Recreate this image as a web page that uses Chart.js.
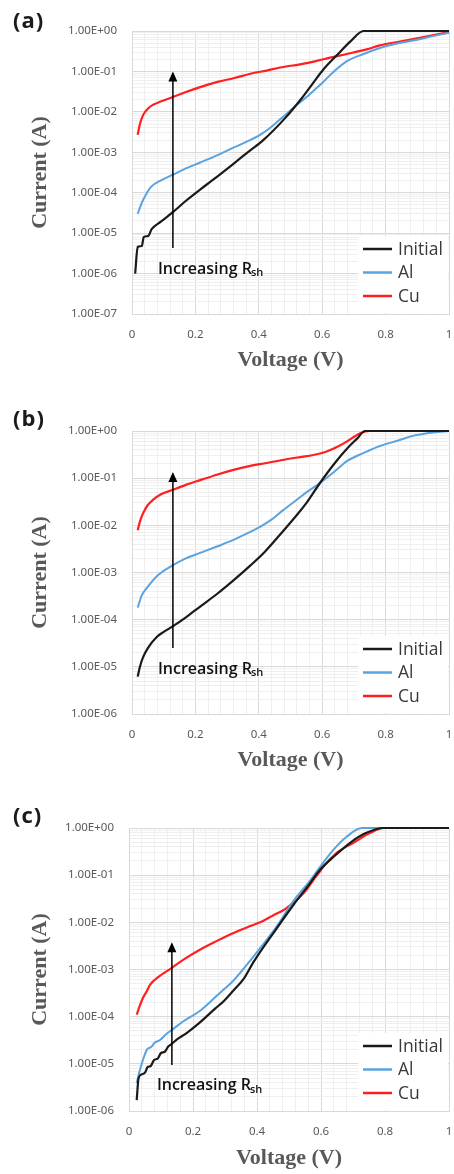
<!DOCTYPE html>
<html>
<head>
<meta charset="utf-8">
<script src="https://cdn.jsdelivr.net/npm/chart.js@4.4.1/dist/chart.umd.min.js"></script>
<style>
  body { margin: 0; width: 454px; height: 1174px; background: #fff; position: relative; overflow: hidden; }
  .panel { position: absolute; left: 0; width: 454px; }
  .tag { position: absolute; left: 13px; font: 700 22px "Open Sans", sans-serif; color: #1b1b1b; letter-spacing: 1px; }
</style>
</head>
<body>
<div class="panel" style="top:0"><canvas id="chartA" width="454" height="380"></canvas></div>
<div class="panel" style="top:390px"><canvas id="chartB" width="454" height="390"></canvas></div>
<div class="panel" style="top:790px"><canvas id="chartC" width="454" height="387"></canvas></div>
<div class="tag" style="top:4px">(a)</div>
<div class="tag" style="top:402px">(b)</div>
<div class="tag" style="top:799px">(c)</div>
<script>
// series labels and colours
const seriesNames = ['Initial', 'Al', 'Cu'];
const seriesColors = ['#1a1a1a', '#5ba3e0', '#ff1f1f'];

// x tick labels (V)
const xTickLabels = ['0', '0.2', '0.4', '0.6', '0.8', '1'];

// ---- panel (a) ----
const aInitialV = [0.01, 0.018, 0.031, 0.037, 0.051, 0.062, 0.09, 0.127, 0.173, 0.215, 0.256, 0.32, 0.37, 0.414, 0.483, 0.536, 0.57, 0.603, 0.646, 0.69, 0.73, 1.0];
const aInitialI = [1.0e-6, 4.6e-6, 4.8e-6, 8.0e-6, 8.5e-6, 1.25e-5, 1.9e-5, 3.2e-5, 6.6e-5, 1.2e-4, 2.1e-4, 5.2e-4, 1.07e-3, 2.0e-3, 7.0e-3, 0.022, 0.05, 0.11, 0.25, 0.56, 1.0, 1.0];
const aAlV = [0.018, 0.025, 0.035, 0.06, 0.09, 0.127, 0.17, 0.215, 0.27, 0.32, 0.36, 0.404, 0.44, 0.47, 0.5, 0.52, 0.55, 0.572, 0.6, 0.637, 0.678, 0.73, 0.782, 0.84, 0.887, 0.94, 1.0];
const aAlI = [3.0e-5, 4.3e-5, 6.6e-5, 1.4e-4, 2.0e-4, 2.75e-4, 4.0e-4, 5.6e-4, 8.5e-4, 1.3e-3, 1.8e-3, 2.7e-3, 4.3e-3, 6.8e-3, 0.011, 0.015, 0.023, 0.033, 0.052, 0.1, 0.18, 0.27, 0.38, 0.5, 0.58, 0.72, 0.9];
const aCuV = [0.018, 0.025, 0.035, 0.05, 0.067, 0.09, 0.127, 0.17, 0.215, 0.27, 0.32, 0.38, 0.425, 0.467, 0.53, 0.58, 0.625, 0.678, 0.74, 0.782, 0.845, 0.887, 0.94, 1.0];
const aCuI = [2.7e-3, 5.0e-3, 8.3e-3, 0.012, 0.015, 0.018, 0.023, 0.031, 0.041, 0.055, 0.068, 0.09, 0.105, 0.125, 0.15, 0.18, 0.22, 0.27, 0.35, 0.44, 0.55, 0.63, 0.76, 0.93];

// ---- panel (b) ----
const bInitialV = [0.018, 0.025, 0.035, 0.05, 0.078, 0.1, 0.127, 0.17, 0.215, 0.268, 0.32, 0.372, 0.42, 0.477, 0.52, 0.55, 0.593, 0.64, 0.678, 0.71, 0.735, 1.0];
const bInitialI = [6.2e-6, 1.0e-5, 1.6e-5, 2.5e-5, 4.3e-5, 5.5e-5, 7.1e-5, 1.12e-4, 1.9e-4, 3.5e-4, 6.8e-4, 1.38e-3, 2.8e-3, 7.6e-3, 0.0166, 0.0295, 0.079, 0.21, 0.42, 0.69, 1.0, 1.0];
const bAlV = [0.018, 0.03, 0.047, 0.08, 0.127, 0.17, 0.215, 0.27, 0.32, 0.36, 0.404, 0.44, 0.477, 0.52, 0.55, 0.593, 0.64, 0.678, 0.73, 0.782, 0.84, 0.887, 0.95, 1.0];
const bAlI = [1.8e-4, 3.2e-4, 4.7e-4, 8.5e-4, 1.4e-3, 2.0e-3, 2.6e-3, 3.6e-3, 4.9e-3, 6.6e-3, 9.3e-3, 0.0132, 0.021, 0.035, 0.05, 0.079, 0.14, 0.23, 0.34, 0.48, 0.63, 0.79, 0.93, 1.0];
const bCuV = [0.018, 0.025, 0.035, 0.05, 0.067, 0.09, 0.127, 0.17, 0.215, 0.27, 0.32, 0.37, 0.425, 0.47, 0.53, 0.572, 0.61, 0.645, 0.678, 0.72, 0.75, 1.0];
const bCuI = [7.9e-3, 0.012, 0.018, 0.027, 0.035, 0.045, 0.056, 0.072, 0.091, 0.12, 0.15, 0.18, 0.21, 0.24, 0.28, 0.31, 0.36, 0.45, 0.6, 0.9, 1.0, 1.0];

// ---- panel (c) ----
const cInitialV = [0.024, 0.03, 0.04, 0.05, 0.058, 0.068, 0.078, 0.09, 0.1, 0.112, 0.122, 0.135, 0.15, 0.18, 0.22, 0.27, 0.295, 0.325, 0.36, 0.388, 0.46, 0.513, 0.566, 0.597, 0.638, 0.69, 0.74, 0.795, 1.0];
const cInitialI = [1.7e-6, 5.0e-6, 6.0e-6, 6.5e-6, 8.5e-6, 9.0e-6, 1.2e-5, 1.3e-5, 1.7e-5, 1.8e-5, 2.3e-5, 2.7e-5, 3.3e-5, 4.5e-5, 7.4e-5, 1.5e-4, 2.1e-4, 3.5e-4, 6.6e-4, 1.4e-3, 7.2e-3, 0.023, 0.068, 0.13, 0.24, 0.48, 0.78, 1.0, 1.0];
const cAlV = [0.024, 0.034, 0.045, 0.056, 0.07, 0.08, 0.097, 0.115, 0.135, 0.17, 0.22, 0.27, 0.295, 0.325, 0.388, 0.46, 0.513, 0.566, 0.597, 0.638, 0.68, 0.727, 1.0];
const cAlI = [3.9e-6, 7.4e-6, 1.3e-5, 2.0e-5, 2.3e-5, 2.8e-5, 3.2e-5, 4.2e-5, 5.3e-5, 8.0e-5, 1.3e-4, 2.6e-4, 3.7e-4, 5.7e-4, 1.85e-3, 7.9e-3, 0.028, 0.077, 0.15, 0.34, 0.65, 1.0, 1.0];
const cCuV = [0.024, 0.035, 0.045, 0.056, 0.066, 0.09, 0.135, 0.175, 0.22, 0.27, 0.325, 0.37, 0.41, 0.45, 0.482, 0.51, 0.535, 0.556, 0.576, 0.597, 0.607, 0.65, 0.7, 0.753, 0.795, 1.0];
const cCuI = [1.1e-4, 1.8e-4, 2.6e-4, 3.5e-4, 4.8e-4, 6.8e-4, 1.1e-3, 1.7e-3, 2.6e-3, 3.9e-3, 5.9e-3, 7.9e-3, 0.01, 0.014, 0.018, 0.025, 0.035, 0.05, 0.079, 0.12, 0.15, 0.3, 0.48, 0.78, 1.0, 1.0];

// arrow annotation: [voltage, current at tail, current at head]
const aArrow = [0.129, 4.3e-6, 0.1];
const bArrow = [0.129, 2.5e-5, 0.135];
const cArrow = [0.134, 9.5e-6, 3.8e-3];


function isDecade(v) {
    const e = Math.log10(v);
    return Math.abs(e - Math.round(e)) < 1e-6;
}

function sciLabel(v) {
    const e = Math.round(Math.log10(v));
    return '1.00E' + (e < 0 ? '-' : '+') + String(Math.abs(e)).padStart(2, '0');
}

function toPoints(vs, is) {
    return vs.map((v, k) => ({ x: v, y: is[k] }));
}

// white legend box inside the plot, bottom right
const insideLegend = {
    id: 'insideLegend',
    afterDatasetsDraw(chart) {
        const { ctx, chartArea } = chart;
        ctx.save();
        ctx.fillStyle = '#fff';
        ctx.fillRect(chartArea.right - 91, chartArea.bottom - 78, 90, 77);
        chart.data.datasets.forEach((ds, i) => {
            const y = chartArea.bottom - 65 + i * 23.5;
            ctx.strokeStyle = ds.borderColor;
            ctx.lineWidth = 2.5;
            ctx.beginPath();
            ctx.moveTo(chartArea.right - 86, y);
            ctx.lineTo(chartArea.right - 57, y);
            ctx.stroke();
            ctx.fillStyle = '#3a3a3a';
            ctx.font = '17.5px "Open Sans"';
            ctx.textBaseline = 'middle';
            ctx.fillText(ds.label, chartArea.right - 51, y + 1);
        });
        ctx.restore();
    }
};

// "Increasing Rsh" arrow
const rshArrow = {
    id: 'rshArrow',
    afterDatasetsDraw(chart, args, opts) {
        const { ctx } = chart;
        const xs = chart.scales.x, ys = chart.scales.y;
        const x = xs.getPixelForValue(opts.at[0]);
        const yTail = ys.getPixelForValue(opts.at[1]);
        const yTip = ys.getPixelForValue(opts.at[2]);
        ctx.save();
        ctx.strokeStyle = '#000';
        ctx.fillStyle = '#000';
        ctx.lineWidth = 1.5;
        ctx.beginPath();
        ctx.moveTo(x, yTail);
        ctx.lineTo(x, yTip + 8);
        ctx.stroke();
        ctx.beginPath();
        ctx.moveTo(x, yTip);
        ctx.lineTo(x - 4.5, yTip + 10);
        ctx.lineTo(x + 4.5, yTip + 10);
        ctx.closePath();
        ctx.fill();

        // label with subscript
        const tx = x - 15, ty = yTail + 21;
        ctx.fillStyle = '#111';
        ctx.textBaseline = 'middle';
        ctx.font = '600 16px "Open Sans"';
        ctx.fillText('Increasing R', tx, ty);
        const w = ctx.measureText('Increasing R').width;
        ctx.font = '600 11px "Open Sans"';
        ctx.fillText('sh', tx + w - 1, ty + 4);
        ctx.restore();
    }
};

function buildPanel(id, yMin, plotLeft, axisHeight, padTop, titlePad, series, arrow) {
    const datasets = series.map((s, k) => ({
        label: seriesNames[k],
        data: toPoints(s[0], s[1]),
        borderColor: seriesColors[k],
        borderWidth: k === 1 ? 2 : 2.2,
        pointRadius: 0,
        showLine: true,
        cubicInterpolationMode: 'monotone',
        clip: 4
    }));

    return new Chart(document.getElementById(id), {
        type: 'scatter',
        data: { datasets: datasets },
        options: {
            responsive: false,
            animation: false,
            events: [],
            layout: { padding: { top: padTop, right: 5, left: 0, bottom: 0 } },
            plugins: {
                legend: { display: false },
                tooltip: { enabled: false },
                rshArrow: { at: arrow }
            },
            scales: {
                x: {
                    type: 'linear',
                    min: 0,
                    max: 1,
                    afterFit: s => {
                        s.height = axisHeight;
                        s.paddingLeft = 0;
                        s.paddingRight = 0;
                    },
                    afterBuildTicks: s => {
                        const t = [];
                        for (let k = 0; k <= 25; k++) t.push({ value: k / 25 });
                        s.ticks = t;
                    },
                    border: { color: '#d9d9d9' },
                    grid: {
                        drawTicks: false,
                        color: c => (c.tick && c.index % 5 === 0) ? '#d9d9d9' : '#efefef'
                    },
                    ticks: {
                        autoSkip: false,
                        maxRotation: 0,
                        padding: 14,
                        color: '#595959',
                        font: { family: 'Noto Sans', size: 11.5 },
                        callback: (v, i) => (i % 5 === 0 ? xTickLabels[i / 5] : '')
                    },
                    title: {
                        display: true,
                        text: 'Voltage (V)',
                        color: '#595959',
                        font: { family: 'Liberation Serif', size: 22, weight: 'bold' },
                        padding: { top: 0, bottom: titlePad }
                    }
                },
                y: {
                    type: 'logarithmic',
                    min: yMin,
                    max: 1,
                    afterFit: s => {
                        s.width = plotLeft;
                        s.paddingTop = 0;
                        s.paddingBottom = 0;
                    },
                    afterBuildTicks: s => {
                        const t = [];
                        const e0 = Math.round(Math.log10(yMin));
                        for (let e = e0; e < 0; e++) {
                            for (let m = 1; m <= 9; m++) t.push({ value: m * Math.pow(10, e) });
                        }
                        t.push({ value: 1 });
                        s.ticks = t;
                    },
                    border: { color: '#d9d9d9' },
                    grid: {
                        drawTicks: false,
                        color: c => (c.tick && isDecade(c.tick.value)) ? '#d9d9d9' : '#efefef'
                    },
                    ticks: {
                        autoSkip: false,
                        padding: 15,
                        color: '#595959',
                        font: { family: 'Noto Sans', size: 11.5 },
                        callback: v => (isDecade(v) ? sciLabel(v) : '')
                    },
                    title: {
                        display: true,
                        text: 'Current (A)',
                        color: '#595959',
                        font: { family: 'Liberation Serif', size: 22, weight: 'bold' },
                        padding: { top: 27, bottom: 0 }
                    }
                }
            }
        },
        plugins: [insideLegend, rshArrow]
    });
}

buildPanel('chartA', 1e-7, 132, 66, 31, 6,
    [[aInitialV, aInitialI], [aAlV, aAlI], [aCuV, aCuI]], aArrow);
buildPanel('chartB', 1e-6, 132, 66, 41, 6,
    [[bInitialV, bInitialI], [bAlV, bAlI], [bCuV, bCuI]], bArrow);
buildPanel('chartC', 1e-6, 129, 66, 38, 5,
    [[cInitialV, cInitialI], [cAlV, cAlI], [cCuV, cCuI]], cArrow);
</script>
</body>
</html>
